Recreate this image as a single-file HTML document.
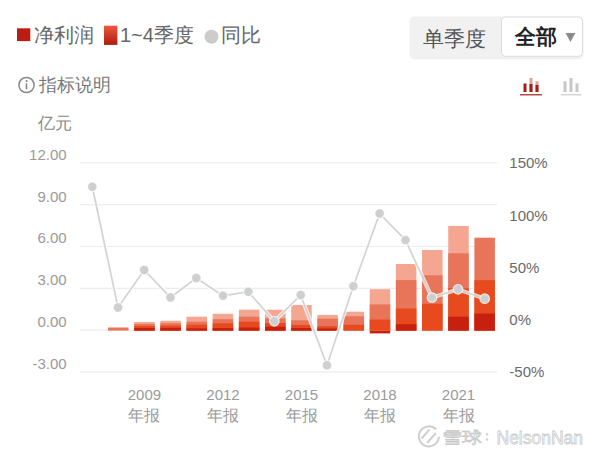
<!DOCTYPE html>
<html><head><meta charset="utf-8">
<style>
html,body{margin:0;padding:0;background:#fff;}
body{width:600px;height:455px;position:relative;overflow:hidden;font-family:"Liberation Sans",sans-serif;}
.abs{position:absolute;white-space:nowrap;}
svg{position:absolute;left:0;top:0;}
.ax{font-family:"Liberation Sans",sans-serif;font-size:15px;fill:#9a9a9a;}
.axr{font-family:"Liberation Sans",sans-serif;font-size:15px;fill:#6a6a6a;}
.axc{font-family:"Liberation Sans",sans-serif;font-size:15.5px;fill:#9a9a9a;}
</style></head><body>
<svg width="600" height="455" viewBox="0 0 600 455">
<defs>
<linearGradient id="lg" x1="0" y1="0" x2="0" y2="1">
<stop offset="0" stop-color="#ec5a3e"/><stop offset="1" stop-color="#b01a0e"/>
</linearGradient>
</defs>
<!-- legend -->
<rect x="17" y="28.3" width="13.3" height="12.8" fill="#bb1d12"/>
<text x="33.5" y="41.5" style="font-size:20px;fill:#666">净利润</text>
<rect x="104" y="25.7" width="13.4" height="19.2" fill="url(#lg)"/>
<text x="120" y="41.5" style="font-size:20px;fill:#666">1~4季度</text>
<circle cx="211.5" cy="36.8" r="7" fill="#cccccc"/>
<text x="220.5" y="41.5" style="font-size:20px;fill:#666">同比</text>
<!-- segmented -->
<rect x="409.5" y="16.5" width="174" height="43" rx="5" fill="#f1f1f1"/>
<rect x="501.5" y="17" width="81" height="39.3" rx="4" fill="#fff" stroke="#dcdcdc" stroke-width="1"/>
<text x="422.5" y="45.5" style="font-size:21px;fill:#555">单季度</text>
<text x="515" y="44" style="font-size:21px;fill:#222;font-weight:bold">全部</text>
<path d="M565.6,33 L575.3,33 L570.45,42 Z" fill="#8a8a8a"/>
<!-- info -->
<circle cx="26.5" cy="85" r="7.6" fill="none" stroke="#888" stroke-width="1.5"/>
<circle cx="26.5" cy="81" r="1.1" fill="#888"/>
<rect x="25.7" y="83.3" width="1.6" height="6" fill="#888"/>
<text x="38.5" y="91" style="font-size:18.2px;fill:#777">指标说明</text>
<!-- chart icons -->
<g fill="#a51e16">
<rect x="523.5" y="83.5" width="3" height="8.5"/>
<rect x="529.5" y="78" width="3" height="14" fill="#dba39c"/>
<rect x="529.5" y="84" width="3" height="8"/>
<rect x="535.5" y="81.3" width="3" height="10.7" fill="#dba39c"/>
<rect x="535.5" y="85" width="3" height="7"/>
<rect x="520" y="94.2" width="22" height="1.2"/>
</g>
<g fill="#c8c8c8">
<rect x="563.5" y="81.3" width="3" height="10.7"/>
<rect x="569.5" y="78" width="3" height="14"/>
<rect x="575.5" y="83.3" width="3" height="8.7"/>
<rect x="560.7" y="94.2" width="20.6" height="1.1"/>
</g>
<text x="37.5" y="129" style="font-size:17px;fill:#888">亿元</text>
<line x1="79.5" y1="162.90" x2="497" y2="162.90" stroke="#ececec" stroke-width="1.2"/>
<line x1="79.5" y1="204.70" x2="497" y2="204.70" stroke="#ececec" stroke-width="1.2"/>
<line x1="79.5" y1="246.50" x2="497" y2="246.50" stroke="#ececec" stroke-width="1.2"/>
<line x1="79.5" y1="288.30" x2="497" y2="288.30" stroke="#ececec" stroke-width="1.2"/>
<line x1="79.5" y1="330.10" x2="497" y2="330.10" stroke="#ececec" stroke-width="1.2"/>
<line x1="79.5" y1="371.90" x2="497" y2="371.90" stroke="#ececec" stroke-width="1.2"/>
<rect x="108.02" y="327.50" width="20.5" height="3.10" fill="#e8745a"/>
<rect x="134.19" y="322.00" width="20.5" height="8.60" fill="#f5a690"/>
<rect x="134.19" y="324.00" width="20.5" height="6.60" fill="#e8745a"/>
<rect x="134.19" y="326.00" width="20.5" height="4.60" fill="#e84a1f"/>
<rect x="134.19" y="328.00" width="20.5" height="2.60" fill="#c8200f"/>
<rect x="160.36" y="320.80" width="20.5" height="9.80" fill="#f5a690"/>
<rect x="160.36" y="323.20" width="20.5" height="7.40" fill="#e8745a"/>
<rect x="160.36" y="325.50" width="20.5" height="5.10" fill="#e84a1f"/>
<rect x="160.36" y="327.80" width="20.5" height="2.80" fill="#c8200f"/>
<rect x="186.53" y="316.70" width="20.5" height="13.90" fill="#f5a690"/>
<rect x="186.53" y="321.70" width="20.5" height="8.90" fill="#e8745a"/>
<rect x="186.53" y="324.70" width="20.5" height="5.90" fill="#e84a1f"/>
<rect x="186.53" y="328.30" width="20.5" height="2.30" fill="#c8200f"/>
<rect x="212.70" y="313.80" width="20.5" height="16.80" fill="#f5a690"/>
<rect x="212.70" y="319.20" width="20.5" height="11.40" fill="#e8745a"/>
<rect x="212.70" y="323.30" width="20.5" height="7.30" fill="#e84a1f"/>
<rect x="212.70" y="328.00" width="20.5" height="2.60" fill="#c8200f"/>
<rect x="238.87" y="309.70" width="20.5" height="20.90" fill="#f5a690"/>
<rect x="238.87" y="316.70" width="20.5" height="13.90" fill="#e8745a"/>
<rect x="238.87" y="321.70" width="20.5" height="8.90" fill="#e84a1f"/>
<rect x="238.87" y="327.50" width="20.5" height="3.10" fill="#c8200f"/>
<rect x="265.04" y="309.80" width="20.5" height="20.80" fill="#f5a690"/>
<rect x="265.04" y="318.40" width="20.5" height="12.20" fill="#e8745a"/>
<rect x="265.04" y="323.00" width="20.5" height="7.60" fill="#e84a1f"/>
<rect x="265.04" y="326.70" width="20.5" height="3.90" fill="#c8200f"/>
<rect x="291.21" y="305.00" width="20.5" height="25.60" fill="#f5a690"/>
<rect x="291.21" y="320.30" width="20.5" height="10.30" fill="#e8745a"/>
<rect x="291.21" y="324.90" width="20.5" height="5.70" fill="#e84a1f"/>
<rect x="291.21" y="328.00" width="20.5" height="2.60" fill="#c8200f"/>
<rect x="317.38" y="314.90" width="20.5" height="15.70" fill="#f5a690"/>
<rect x="317.38" y="318.60" width="20.5" height="12.00" fill="#e8745a"/>
<rect x="317.38" y="326.30" width="20.5" height="4.30" fill="#e84a1f"/>
<rect x="317.38" y="328.50" width="20.5" height="2.10" fill="#c8200f"/>
<rect x="343.55" y="311.70" width="20.5" height="18.90" fill="#f5a690"/>
<rect x="343.55" y="316.30" width="20.5" height="14.30" fill="#e8745a"/>
<rect x="343.55" y="324.80" width="20.5" height="5.80" fill="#e84a1f"/>
<rect x="369.72" y="330.10" width="20.5" height="3.30" fill="#c8200f"/>
<rect x="369.72" y="289.20" width="20.5" height="41.40" fill="#f5a690"/>
<rect x="369.72" y="304.40" width="20.5" height="26.20" fill="#e8745a"/>
<rect x="369.72" y="319.60" width="20.5" height="11.00" fill="#e84a1f"/>
<rect x="395.89" y="264.00" width="20.5" height="66.60" fill="#f5a690"/>
<rect x="395.89" y="280.10" width="20.5" height="50.50" fill="#e8745a"/>
<rect x="395.89" y="308.50" width="20.5" height="22.10" fill="#e84a1f"/>
<rect x="395.89" y="324.30" width="20.5" height="6.30" fill="#c8200f"/>
<rect x="422.06" y="250.00" width="20.5" height="80.60" fill="#f5a690"/>
<rect x="422.06" y="275.30" width="20.5" height="55.30" fill="#e8745a"/>
<rect x="422.06" y="303.80" width="20.5" height="26.80" fill="#e84a1f"/>
<rect x="448.23" y="226.00" width="20.5" height="104.60" fill="#f5a690"/>
<rect x="448.23" y="253.30" width="20.5" height="77.30" fill="#e8745a"/>
<rect x="448.23" y="288.30" width="20.5" height="42.30" fill="#e84a1f"/>
<rect x="448.23" y="316.70" width="20.5" height="13.90" fill="#c8200f"/>
<rect x="474.40" y="237.70" width="20.5" height="92.90" fill="#e8745a"/>
<rect x="474.40" y="280.20" width="20.5" height="50.40" fill="#e84a1f"/>
<rect x="474.40" y="313.50" width="20.5" height="17.10" fill="#c8200f"/>
<path d="M92.3,186.8 L118.0,307.5 L144.2,270.0 L170.5,297.5 L196.3,278.0 L223.0,295.8 L248.3,291.7 L274.3,321.3 L300.7,295.0 L327.0,365.3 L353.4,286.2 L379.6,213.5 L405.5,240.1 L432.0,297.6 L458.0,289.3 L484.7,298.7" fill="none" stroke="rgba(255,255,255,0.75)" stroke-width="4"/>
<path d="M92.3,186.8 L118.0,307.5 L144.2,270.0 L170.5,297.5 L196.3,278.0 L223.0,295.8 L248.3,291.7 L274.3,321.3 L300.7,295.0 L327.0,365.3 L353.4,286.2 L379.6,213.5 L405.5,240.1 L432.0,297.6 L458.0,289.3 L484.7,298.7" fill="none" stroke="#c8c8c8" stroke-width="1.7" stroke-opacity="0.8"/>
<circle cx="92.3" cy="186.8" r="4.8" fill="#cdcfd1" stroke="rgba(255,255,255,0.75)" stroke-width="1.2"/>
<circle cx="118" cy="307.5" r="4.8" fill="#cdcfd1" stroke="rgba(255,255,255,0.75)" stroke-width="1.2"/>
<circle cx="144.2" cy="270" r="4.8" fill="#cdcfd1" stroke="rgba(255,255,255,0.75)" stroke-width="1.2"/>
<circle cx="170.5" cy="297.5" r="4.8" fill="#cdcfd1" stroke="rgba(255,255,255,0.75)" stroke-width="1.2"/>
<circle cx="196.3" cy="278" r="4.8" fill="#cdcfd1" stroke="rgba(255,255,255,0.75)" stroke-width="1.2"/>
<circle cx="223" cy="295.8" r="4.8" fill="#cdcfd1" stroke="rgba(255,255,255,0.75)" stroke-width="1.2"/>
<circle cx="248.3" cy="291.7" r="4.8" fill="#cdcfd1" stroke="rgba(255,255,255,0.75)" stroke-width="1.2"/>
<circle cx="274.3" cy="321.3" r="4.8" fill="#cdcfd1" stroke="rgba(255,255,255,0.75)" stroke-width="1.2"/>
<circle cx="300.7" cy="295" r="4.8" fill="#cdcfd1" stroke="rgba(255,255,255,0.75)" stroke-width="1.2"/>
<circle cx="327" cy="365.3" r="4.8" fill="#cdcfd1" stroke="rgba(255,255,255,0.75)" stroke-width="1.2"/>
<circle cx="353.4" cy="286.2" r="4.8" fill="#cdcfd1" stroke="rgba(255,255,255,0.75)" stroke-width="1.2"/>
<circle cx="379.6" cy="213.5" r="4.8" fill="#cdcfd1" stroke="rgba(255,255,255,0.75)" stroke-width="1.2"/>
<circle cx="405.5" cy="240.1" r="4.8" fill="#cdcfd1" stroke="rgba(255,255,255,0.75)" stroke-width="1.2"/>
<circle cx="432" cy="297.6" r="4.8" fill="#cdcfd1" stroke="rgba(255,255,255,0.75)" stroke-width="1.2"/>
<circle cx="458" cy="289.3" r="4.8" fill="#cdcfd1" stroke="rgba(255,255,255,0.75)" stroke-width="1.2"/>
<circle cx="484.7" cy="298.7" r="4.8" fill="#cdcfd1" stroke="rgba(255,255,255,0.75)" stroke-width="1.2"/>
<text x="66.6" y="159.8" text-anchor="end" class="ax">12.00</text>
<text x="66.6" y="201.6" text-anchor="end" class="ax">9.00</text>
<text x="66.6" y="243.4" text-anchor="end" class="ax">6.00</text>
<text x="66.6" y="285.2" text-anchor="end" class="ax">3.00</text>
<text x="66.6" y="327.0" text-anchor="end" class="ax">0.00</text>
<text x="66.6" y="368.8" text-anchor="end" class="ax">-3.00</text>

<text x="509.3" y="168.3" class="axr">150%</text>
<text x="509.3" y="220.6" class="axr">100%</text>
<text x="509.3" y="272.8" class="axr">50%</text>
<text x="509.3" y="325.0" class="axr">0%</text>
<text x="509.3" y="377.3" class="axr">-50%</text>

<text x="144.4" y="399.8" text-anchor="middle" class="ax">2009</text>
<text x="144.4" y="420.5" text-anchor="middle" class="axc">年报</text>
<text x="223.0" y="399.8" text-anchor="middle" class="ax">2012</text>
<text x="223.0" y="420.5" text-anchor="middle" class="axc">年报</text>
<text x="301.5" y="399.8" text-anchor="middle" class="ax">2015</text>
<text x="301.5" y="420.5" text-anchor="middle" class="axc">年报</text>
<text x="380.0" y="399.8" text-anchor="middle" class="ax">2018</text>
<text x="380.0" y="420.5" text-anchor="middle" class="axc">年报</text>
<text x="458.5" y="399.8" text-anchor="middle" class="ax">2021</text>
<text x="458.5" y="420.5" text-anchor="middle" class="axc">年报</text>

<!-- watermark -->
<g>
<path d="M436.2,429.5 A10,10 0 1 0 438.9,436.8" fill="none" stroke="#cfcfcf" stroke-width="2"/>
<path d="M421.5,438.5 L429.5,429.5 M427,443 L436,433" fill="none" stroke="#d0d0d0" stroke-width="2"/>
<text x="442.5" y="0" transform="translate(0,442.8) scale(1,0.8)" style="font-size:19.5px;fill:#fff;stroke:#c9c9c9;stroke-width:0.9">雪球</text>
<circle cx="487" cy="434.3" r="1.2" fill="#d0d0d0"/><circle cx="487" cy="439.5" r="1.2" fill="#d0d0d0"/>
<text x="496.5" y="443.5" style="font-size:17.5px;fill:#fff;stroke:#cbcbcb;stroke-width:0.8">NelsonNan</text>
</g>
</svg>
</body></html>
